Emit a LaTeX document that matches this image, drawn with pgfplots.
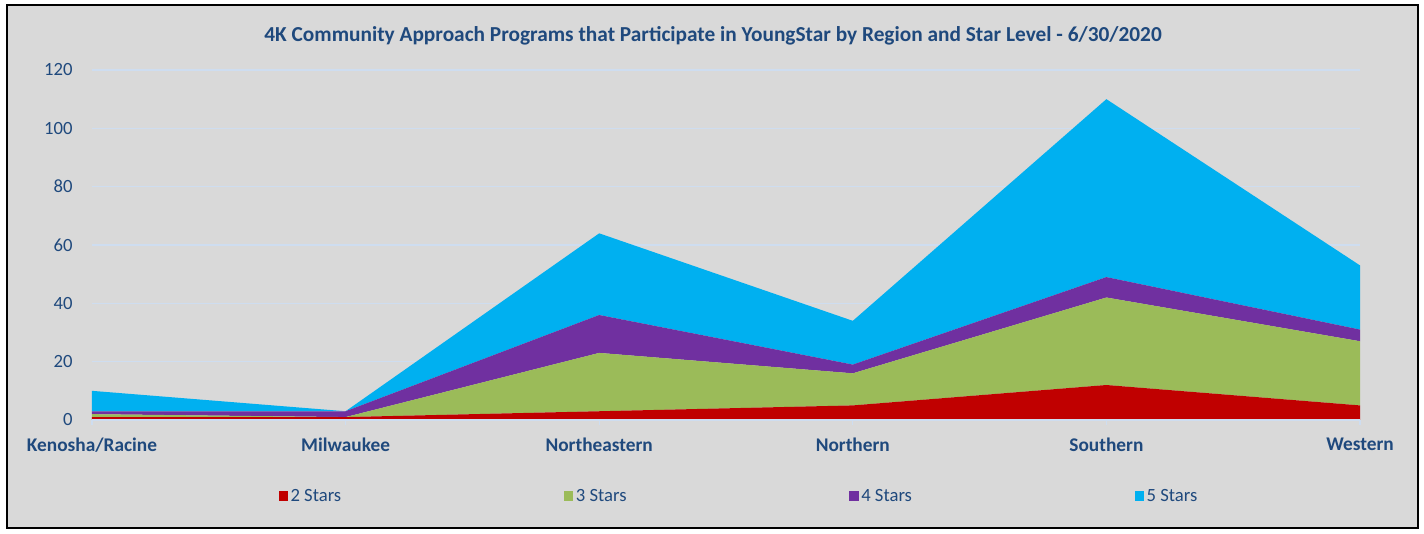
\documentclass[border=0pt]{standalone}
\usepackage{pgfplots}
\pgfplotsset{compat=1.18}
\usepackage{fontspec}
\setmainfont{Carlito}

\definecolor{bggray}{RGB}{217,217,217}
\definecolor{gridblue}{RGB}{206,221,240}
\definecolor{txtblue}{RGB}{31,73,125}
\definecolor{s2}{RGB}{192,0,0}
\definecolor{s3}{RGB}{155,187,89}
\definecolor{s4}{RGB}{112,48,160}
\definecolor{s5}{RGB}{0,176,240}

\begin{document}
\begin{tikzpicture}
% frame, in image pixels (1px = 0.75pt)
\begin{scope}[x=0.75pt,y=0.75pt]
\fill[white] (0,0) rectangle (1424,533);
\filldraw[fill=bggray, draw=black, line width=1.5pt] (7,5) rectangle (1418,528);
\node[font=\bfseries\fontsize{16}{18}\selectfont, text=txtblue] at (713,497)
  {4K Community Approach Programs that Participate in YoungStar by Region and Star Level - 6/30/2020};
% horizontal gridlines behind the axis (one every 20 units = 58.33px)
\foreach \k in {1,...,6}
  \draw[gridblue, line width=1pt] (92,113+58.333*\k) -- (1360,113+58.333*\k);
\end{scope}

\begin{axis}[
    at={(69pt,84.75pt)}, anchor=south west,
    scale only axis,
    width=951pt, height=262.5pt,
    xmin=0, xmax=5, ymin=0, ymax=120,
    xtick={0,1,2,3,4,5},
    xticklabels={Kenosha/Racine,Milwaukee,Northeastern,Northern,Southern,Western},
    ytick={0,20,...,120},
    stack plots=y,
    area style,
    axis x line*=bottom, axis y line*=left,
    x axis line style={draw=gridblue, line width=1pt, -},
    y axis line style={draw=none},
    tick align=outside,
    major tick length=4pt,
    xtick style={draw=gridblue, line width=1pt},
    ytick style={draw=none},
    tick label style={font=\fontsize{14}{16}\selectfont, text=txtblue},
    xticklabel style={font=\bfseries\fontsize{14.5}{16}\selectfont, yshift=-6pt},
    yticklabel style={xshift=-7pt},
    /pgf/number format/assume math mode=true,
    legend columns=4,
    legend style={at={(0.5105,-0.217)}, anchor=center, draw=none, fill=none,
        font=\fontsize{14}{16}\selectfont, text=txtblue,
        /tikz/every even column/.append style={column sep=165pt}},
    legend image code/.code={\fill[#1] (0pt,-3.5pt) rectangle (7pt,3.5pt);},
]
\addplot[fill=s2, draw=none] coordinates {(0,1) (1,1) (2,3) (3,5) (4,12) (5,5)} \closedcycle;
\addplot[fill=s3, draw=none] coordinates {(0,1) (1,0) (2,20) (3,11) (4,30) (5,22)} \closedcycle;
\addplot[fill=s4, draw=none] coordinates {(0,1) (1,2) (2,13) (3,3) (4,7) (5,4)} \closedcycle;
\addplot[fill=s5, draw=none] coordinates {(0,7) (1,0) (2,28) (3,15) (4,61) (5,22)} \closedcycle;
\legend{2 Stars,3 Stars,4 Stars,5 Stars}
\end{axis}
\end{tikzpicture}
\end{document}
